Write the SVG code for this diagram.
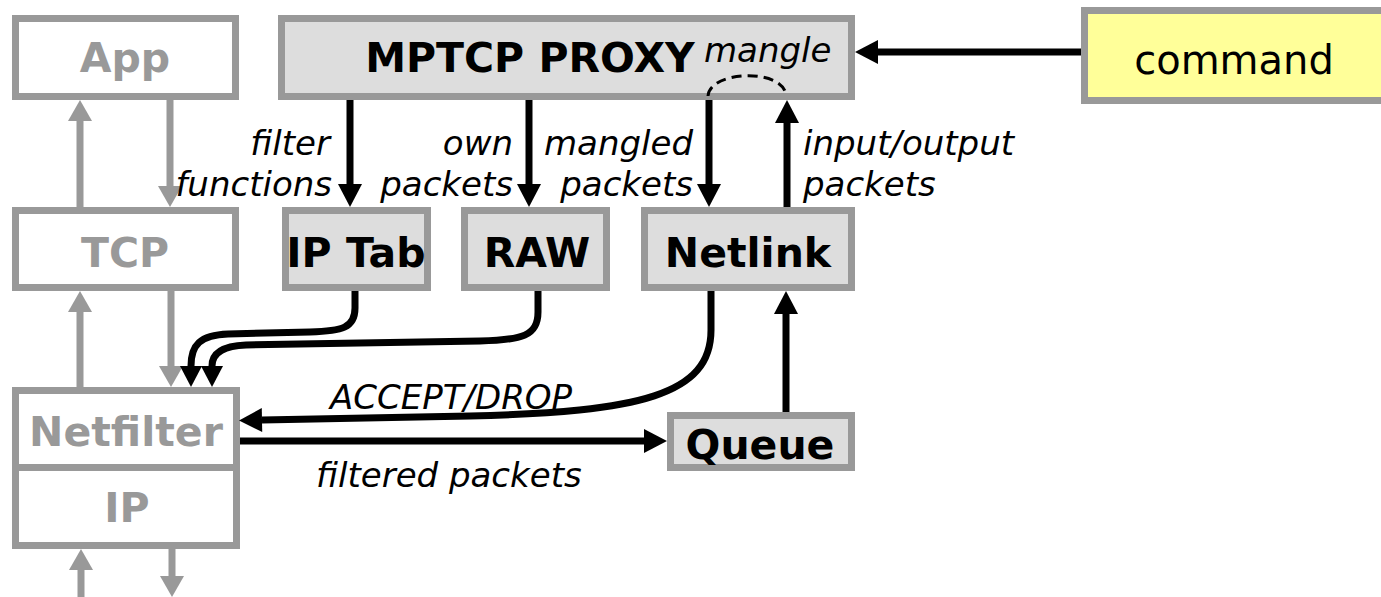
<svg xmlns="http://www.w3.org/2000/svg" width="1381" height="597" viewBox="0 0 1381 597">
<style>
.box{stroke:#999999;stroke-width:7}
.gray{fill:#ffffff}
.dark{fill:#dddddd}
.cmd{fill:#ffff99}
.lbl{font-family:"DejaVu Sans",Verdana,sans-serif;font-weight:bold;font-size:41px;text-anchor:middle}
.lg{fill:#999999}
.lb{fill:#000000}
.it{font-family:"DejaVu Sans",Verdana,sans-serif;font-style:italic;font-size:34px;fill:#000000}
.cb{fill:none;stroke:#000000;stroke-width:7}
.cg{fill:none;stroke:#999999;stroke-width:7}
</style>
<defs>
<marker id="ah" markerUnits="userSpaceOnUse" markerWidth="24" markerHeight="24" viewBox="0 0 24 24" refX="0" refY="12" orient="auto" overflow="visible">
<path d="M0,0 L23,12 L0,24 z" fill="#000000"/>
</marker>
<marker id="ahs" markerUnits="userSpaceOnUse" markerWidth="22" markerHeight="22" viewBox="0 0 22 22" refX="0" refY="11" orient="auto" overflow="visible">
<path d="M0,0 L21,11 L0,22 z" fill="#000000"/>
</marker>
<marker id="ag" markerUnits="userSpaceOnUse" markerWidth="24" markerHeight="24" viewBox="0 0 24 24" refX="0" refY="12" orient="auto" overflow="visible">
<path d="M0,0 L21,12 L0,24 z" fill="#999999"/>
</marker>
</defs>

<g id="app"><rect class="box gray" x="15.5" y="18.5" width="220" height="78"/><text class="lbl lg" x="125" y="72">App</text></g>
<g id="mptcp"><rect class="box dark" x="281.5" y="18.5" width="570" height="78"/><text class="lbl lb" x="530" y="72" font-size="40">MPTCP PROXY</text><text class="it" x="704" y="62" font-size="32">mangle</text></g>
<g id="command"><rect class="box cmd" x="1084.5" y="10.5" width="310" height="90"/><text class="lb" x="1234" y="74" font-family="DejaVu Sans,Verdana,sans-serif" font-size="40" text-anchor="middle">command</text></g>
<g id="tcp"><rect class="box gray" x="15.5" y="210.5" width="220" height="77"/><text class="lbl lg" x="125" y="267">TCP</text></g>
<g id="iptab"><rect class="box dark" x="285.5" y="210.5" width="142" height="77"/><text class="lbl lb" x="356" y="267">IP Tab</text></g>
<g id="raw"><rect class="box dark" x="464.5" y="210.5" width="142" height="77"/><text class="lbl lb" x="537" y="267">RAW</text></g>
<g id="netlink"><rect class="box dark" x="644.5" y="210.5" width="207" height="77"/><text class="lbl lb" x="748" y="267">Netlink</text></g>
<g id="netfilter"><rect class="box gray" x="15.5" y="390.5" width="221" height="77"/><text class="lbl lg" x="126" y="446">Netfilter</text></g>
<g id="ip"><rect class="box gray" x="15.5" y="467.5" width="221" height="78"/><text class="lbl lg" x="127" y="522">IP</text></g>
<g id="queue"><rect class="box dark" x="670.5" y="415.5" width="181" height="52"/><text class="lbl lb" x="760" y="459">Queue</text></g>

<g id="connectors">
<path class="cg" d="M80 207 L80 121" marker-end="url(#ag)"/>
<path class="cg" d="M170 100 L170 186" marker-end="url(#ag)"/>
<path class="cg" d="M80 387 L80 312" marker-end="url(#ag)"/>
<path class="cg" d="M171 291 L171 366" marker-end="url(#ag)"/>
<path class="cg" d="M81 597 L81 570" marker-end="url(#ag)"/>
<path class="cg" d="M172 549 L172 576" marker-end="url(#ag)"/>

<path class="cb" d="M1081 52 L878 52" marker-end="url(#ah)"/>
<path class="cb" d="M350 100 L350 184" marker-end="url(#ah)"/>
<path class="cb" d="M529 100 L529 184" marker-end="url(#ah)"/>
<path class="cb" d="M709 100 L709 184" marker-end="url(#ah)"/>
<path class="cb" d="M787 207 L787 123" marker-end="url(#ah)"/>
<path d="M708 96 C710 70 785 68 786 96" fill="none" stroke="#000000" stroke-width="3" stroke-dasharray="10 6"/>

<path class="cb" d="M355 291 L355 308 C355 328 342 331 310 332 L228 334 C200 335 191 345 191 366" marker-end="url(#ahs)"/>
<path class="cb" d="M538 291 L538 312 C538 336 522 340 480 341 L246 345 C221 346 212 354 212 366" marker-end="url(#ahs)"/>
<path class="cb" d="M711 291 L711 330 C711 395 640 412 470 416 L262 420" marker-end="url(#ah)"/>
<path class="cb" d="M240 441 L644 441" marker-end="url(#ah)"/>
<path class="cb" d="M786 412 L786 314" marker-end="url(#ah)"/>
</g>

<g id="labels">
<text class="it" x="330" y="155" text-anchor="end">filter</text>
<text class="it" x="332" y="196" text-anchor="end">functions</text>
<text class="it" x="513" y="155" text-anchor="end">own</text>
<text class="it" x="513" y="196" text-anchor="end">packets</text>
<text class="it" x="693" y="155" text-anchor="end">mangled</text>
<text class="it" x="693" y="196" text-anchor="end">packets</text>
<text class="it" x="803" y="155">input/output</text>
<text class="it" x="803" y="196">packets</text>
<text class="it" x="330" y="409">ACCEPT/DROP</text>
<text class="it" x="316" y="487">filtered packets</text>
</g>
</svg>
